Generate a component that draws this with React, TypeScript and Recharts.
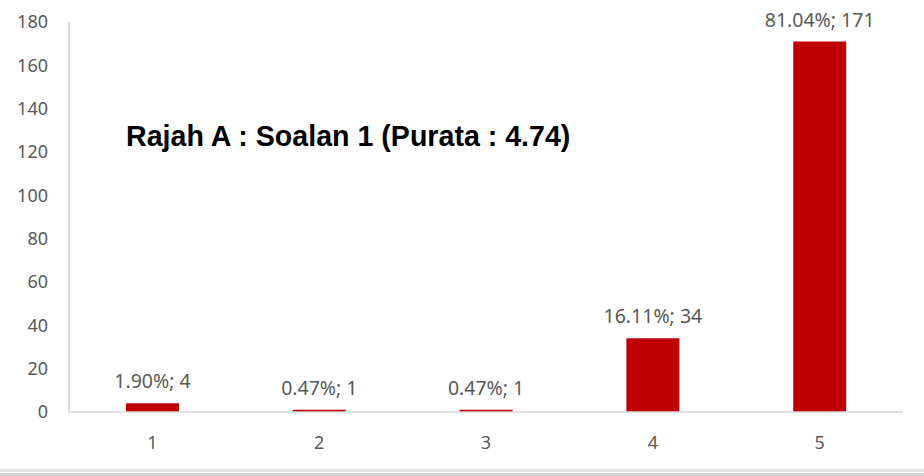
import { BarChart, Bar, XAxis, YAxis, LabelList } from 'recharts';

const categories = ['1', '2', '3', '4', '5'];
const counts = [4, 1, 1, 34, 171];
const percents = ['1.90%', '0.47%', '0.47%', '16.11%', '81.04%'];
const yTicks = [0, 20, 40, 60, 80, 100, 120, 140, 160, 180];

const data = categories.map((c, i) => ({
  name: c,
  count: counts[i],
  label: `${percents[i]}; ${counts[i]}`,
}));

const textStyle = { fontSize: 18, fill: '#595959', fontFamily: 'Noto Sans, sans-serif' };

// plain svg text so the label does not wrap to the bar width
function TopLabel(props: any) {
  const { x, y, width, value } = props;
  return (
    <text x={x + width / 2} y={y - 15} textAnchor="middle" {...textStyle} fontSize={19.5}>
      {value}
    </text>
  );
}

export default function App() {
  return (
    <div style={{ position: 'fixed', left: 0, top: 0, width: 924, height: 476, background: '#fff' }}>
      <BarChart
        width={924}
        height={476}
        data={data}
        margin={{ top: 22, right: 21, bottom: 34, left: 9 }}
      >
        <XAxis
          dataKey="name"
          tick={textStyle}
          tickLine={false}
          tickSize={0}
          tickMargin={24}
          axisLine={{ stroke: '#d9d9d9', strokeWidth: 1.5 }}
        />
        <YAxis
          width={60}
          domain={[0, 180]}
          ticks={yTicks}
          tick={textStyle}
          tickLine={false}
          tickSize={0}
          tickMargin={21}
          axisLine={{ stroke: '#ddd8cc', strokeWidth: 2 }}
        />
        <Bar dataKey="count" fill="#c00000" barSize={53} isAnimationActive={false}>
          <LabelList dataKey="label" content={<TopLabel />} />
        </Bar>
      </BarChart>
      <div
        style={{
          position: 'absolute',
          left: 126,
          top: 120,
          lineHeight: '32px',
          fontFamily: 'Liberation Sans, Arial, sans-serif',
          fontWeight: 'bold',
          fontSize: 28.6,
          color: '#000',
          whiteSpace: 'nowrap',
        }}
      >
        Rajah A : Soalan 1 (Purata : 4.74)
      </div>
      <div style={{ position: 'absolute', left: 0, top: 469, width: 924, height: 3, background: '#e6e6e6' }} />
      <div style={{ position: 'absolute', left: 0, top: 473, width: 924, height: 3, background: '#cfcfcf' }} />
    </div>
  );
}
